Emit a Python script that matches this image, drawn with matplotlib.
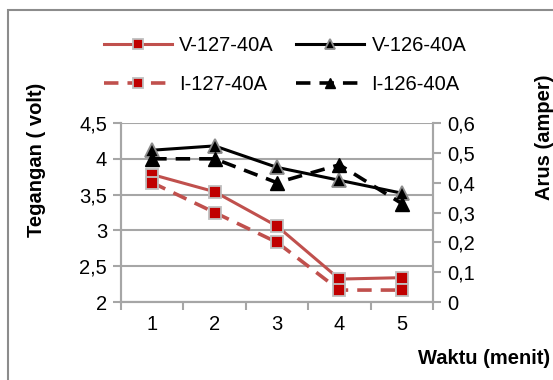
import matplotlib
matplotlib.use("Agg")
import matplotlib.pyplot as plt
from matplotlib.patches import Rectangle
from matplotlib.ticker import FixedLocator, NullFormatter

plt.rcParams['font.family'] = ['Liberation Sans', 'DejaVu Sans']

categories = ["1", "2", "3", "4", "5"]
v127 = [3.78, 3.54, 3.06, 2.32, 2.34]
v126 = [4.12, 4.18, 3.88, 3.70, 3.52]
i127 = [0.40, 0.30, 0.20, 0.04, 0.04]
i126 = [0.48, 0.48, 0.40, 0.46, 0.33]
left_ticks = [2, 2.5, 3, 3.5, 4, 4.5]
left_labels = ["2", "2,5", "3", "3,5", "4", "4,5"]
right_ticks = [0, 0.1, 0.2, 0.3, 0.4, 0.5, 0.6]
right_labels = ["0", "0,1", "0,2", "0,3", "0,4", "0,5", "0,6"]

FS = 14.5
RED_LINE = "#C0504D"
RED_FILL = "#C00000"
GRAY = "#A6A6A6"

W, H = 553, 380
fig = plt.figure(figsize=(W / 100, H / 100), dpi=100)

# outer chart frame (partially cropped)
fig.add_artist(Rectangle((7.5 / W, -0.1), 1.2, 1 - 9.5 / H + 0.1,
                         transform=fig.transFigure, fill=False,
                         edgecolor="#8C8C8C", linewidth=1.5))

ax = fig.add_axes([121 / W, 1 - 302 / H, (433 - 121) / W, (302 - 123) / H])
ax2 = ax.twinx()

x = list(range(len(categories)))

ax.set_ylim(2, 4.5)
ax2.set_ylim(0, 0.6)
ax.set_xlim(-0.5, len(categories) - 0.5)

ax.yaxis.set_major_locator(FixedLocator(left_ticks))
ax.set_yticklabels(left_labels, fontsize=FS)
ax2.yaxis.set_major_locator(FixedLocator(right_ticks))
ax2.set_yticklabels(right_labels, fontsize=FS)

# category axis: tick marks between categories, labels at centres
ax.set_xticks([i - 0.5 for i in range(len(categories) + 1)])
ax.xaxis.set_major_formatter(NullFormatter())
ax.set_xticks(x, minor=True)
ax.set_xticklabels(categories, minor=True, fontsize=FS)
ax.tick_params(axis="x", which="minor", length=0, pad=9)
ax.tick_params(axis="x", which="major", length=6, width=1.5, color=GRAY, direction="out")
ax.tick_params(axis="y", length=6, width=1.5, color=GRAY, direction="out", pad=4)
ax2.tick_params(axis="y", length=6, width=1.5, color=GRAY, direction="out", pad=4)

ax.grid(axis="y", color=GRAY, linewidth=1.5)
ax.set_axisbelow(True)
for a in (ax, ax2):
    a.spines["top"].set_visible(False)
    for s in ("left", "right", "bottom"):
        a.spines[s].set_color(GRAY)
        a.spines[s].set_linewidth(1.5)

ms = 9
l1, = ax.plot(x, v127, color=RED_LINE, linewidth=2.2, marker="s", markersize=ms,
              markerfacecolor=RED_FILL, markeredgecolor="#BFBFBF", markeredgewidth=1.3,
              label="V-127-40A", zorder=3)
l2, = ax.plot(x, v126, color="black", linewidth=2.2, marker="^", markersize=ms + 1,
              markerfacecolor="black", markeredgecolor="#8C8C8C", markeredgewidth=1.3,
              label="V-126-40A", zorder=3)
l3, = ax2.plot(x, i127, color=RED_LINE, linewidth=2.6, linestyle=(0, (4, 2.5)), marker="s",
               markersize=ms, markerfacecolor=RED_FILL, markeredgecolor="#BFBFBF",
               markeredgewidth=1.3, label="I-127-40A", zorder=3)
l4, = ax2.plot(x, i126, color="black", linewidth=2.6, linestyle=(0, (4, 2.5)), marker="^",
               markersize=ms + 1, markerfacecolor="black", markeredgecolor="black",
               markeredgewidth=1, label="I-126-40A", zorder=3)

fig.legend(handles=[l1, l3, l2, l4], loc="center", bbox_to_anchor=(285 / W, 1 - 65 / H),
           ncol=2, frameon=False, fontsize=FS, handlelength=3.4, handletextpad=0.35,
           columnspacing=1.1, labelspacing=1.0, markerscale=0.75, borderaxespad=0)

fig.text(37 / W, 1 - 160 / H, "Tegangan ( volt)", rotation=90, ha="center", va="center",
         fontsize=FS, fontweight="bold")
fig.text(544 / W, 1 - 137 / H, "Arus (amper)", rotation=90, ha="center", va="center",
         fontsize=FS, fontweight="bold")
fig.text(484 / W, 1 - 358 / H, "Waktu (menit)", ha="center", va="center",
         fontsize=FS, fontweight="bold")

fig.savefig("out.png", dpi=100)
